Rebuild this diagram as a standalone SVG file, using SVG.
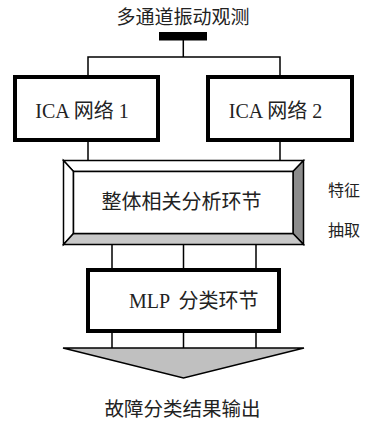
<svg xmlns="http://www.w3.org/2000/svg" width="371" height="426" viewBox="0 0 371 426">
<style>
.t{font-family:"Liberation Serif","Noto Sans CJK SC",serif;fill:#222;}
.box{fill:#fff;stroke:#000;stroke-width:4;}
.ln{stroke:#000;stroke-width:1.5;fill:none;}
.bv{stroke:#000;stroke-width:1.5;stroke-linejoin:miter;}
</style>
<rect width="371" height="426" fill="#fff"/>
<text class="t" x="183" y="23.5" font-size="19" text-anchor="middle">多通道振动观测</text>
<g id="connectors">
<rect x="159" y="32" width="48" height="8.5" fill="#000"/>
<path class="ln" d="M183.3 40 V57 M88 57 H280 M88 56.3 V77 M280 56.3 V77 M88 141 V160.5 M280 141 V160.5 M112 244.5 V268 M183.5 244.5 V268 M256 244.5 V268 M112 333 V348 M183.5 333 V348 M256 333 V348"/>
</g>
<g id="ica1">
<rect class="box" x="15" y="77" width="143" height="63"/>
<text class="t" x="82" y="117.5" font-size="20" text-anchor="middle">ICA 网络 1</text>
</g>
<g id="ica2">
<rect class="box" x="208" y="77" width="144" height="63"/>
<text class="t" x="275.5" y="117.5" font-size="20" text-anchor="middle">ICA 网络 2</text>
</g>
<g id="corr">
<polygon class="bv" fill="#fff" points="63.5,160.5 303.5,160.5 293,171.5 73.5,171.5"/>
<polygon class="bv" fill="#fff" points="63.5,160.5 73.5,171.5 73.5,233.5 63.5,244.5"/>
<polygon class="bv" fill="#8c8c8c" points="303.5,160.5 303.5,244.5 293,233.5 293,171.5"/>
<polygon class="bv" fill="#c8c8c8" points="63.5,244.5 303.5,244.5 293,233.5 73.5,233.5"/>
<rect x="73.5" y="171.5" width="219.5" height="62" fill="#fff" stroke="#000" stroke-width="1.5"/>
<text class="t" x="181.5" y="208.5" font-size="20" text-anchor="middle">整体相关分析环节</text>
</g>
<g id="feat">
<text class="t" x="328" y="196" font-size="16">特征</text>
<text class="t" x="328" y="236" font-size="16">抽取</text>
</g>
<g id="mlp">
<rect class="box" x="88" y="270" width="191" height="61"/>
<text class="t" x="129" y="308" font-size="20">MLP <tspan dx="4">分类环节</tspan></text>
</g>
<g id="output">
<polygon fill="#c0c0c0" stroke="#000" stroke-width="1.5" stroke-linejoin="miter" points="63,348 304,348 183.5,378"/>
<text class="t" x="182.5" y="416" font-size="19.5" text-anchor="middle">故障分类结果输出</text>
</g>
</svg>
